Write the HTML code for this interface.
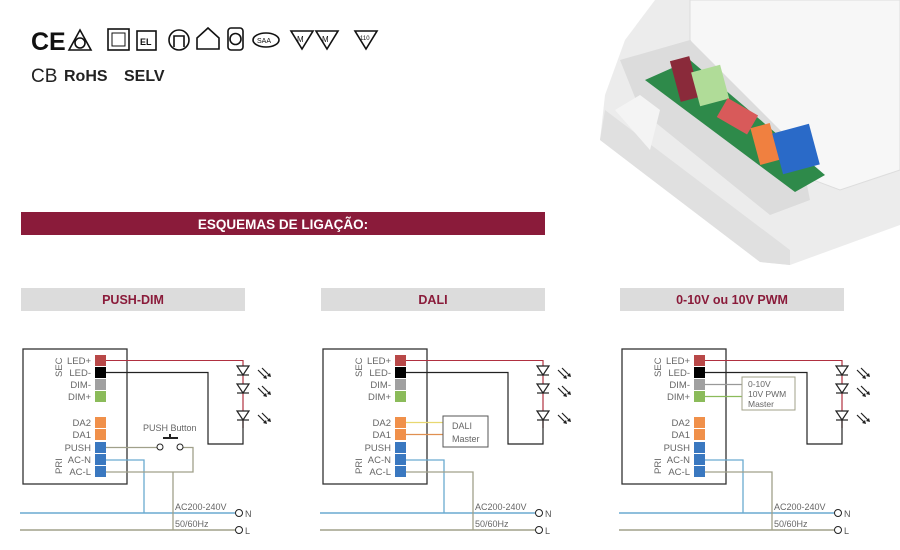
<!DOCTYPE html>
<html><head><meta charset="utf-8"><style>
html,body{margin:0;padding:0;background:#fff;width:900px;height:550px;overflow:hidden}
svg{display:block;font-family:"Liberation Sans",sans-serif}
</style></head><body>
<svg width="900" height="550" viewBox="0 0 900 550" xmlns="http://www.w3.org/2000/svg">
<defs>
<g id="leds" stroke="#222" stroke-width="1.2" fill="#fff">
  <path d="M0,0 V68" stroke="#b03040" fill="none"/>
  <path d="M-6,6 h12 l-6,9 z"/><path d="M-6,15 h12"/>
  <path d="M-6,24 h12 l-6,9 z"/><path d="M-6,33 h12"/>
  <path d="M-6,51 h12 l-6,9 z"/><path d="M-6,60 h12"/>
  <g stroke="#222" fill="none" stroke-width="1.2">
    <path d="M15,10 l8,8 M19,8 l8,8"/><path d="M15,28 l8,8 M19,26 l8,8"/><path d="M15,55 l8,8 M19,53 l8,8"/>
  </g>
  <g fill="#222" stroke="none">
    <path d="M24,19 l-4,-1 l3,-3z M28,17 l-4,-1 l3,-3z M24,37 l-4,-1 l3,-3z M28,35 l-4,-1 l3,-3z M24,64 l-4,-1 l3,-3z M28,62 l-4,-1 l3,-3z"/>
  </g>
</g>
<g id="drv">
  <rect x="23" y="349" width="104" height="135" fill="#fff" stroke="#333" stroke-width="1.3"/>
  <rect x="95" y="355" width="11" height="11" fill="#b84848"/>
  <rect x="95" y="367" width="11" height="11" fill="#000"/>
  <rect x="95" y="379" width="11" height="11" fill="#a0a0a0"/>
  <rect x="95" y="391" width="11" height="11" fill="#8bbb5a"/>
  <rect x="95" y="417" width="11" height="11" fill="#f0904a"/>
  <rect x="95" y="429" width="11" height="11" fill="#f0904a"/>
  <rect x="95" y="442" width="11" height="11" fill="#3a78c0"/>
  <rect x="95" y="454" width="11" height="11" fill="#3a78c0"/>
  <rect x="95" y="466" width="11" height="11" fill="#3a78c0"/>
  <g font-size="9.5" fill="#666" text-anchor="end">
    <text x="91" y="364">LED+</text><text x="91" y="376">LED-</text><text x="91" y="388">DIM-</text><text x="91" y="400">DIM+</text>
    <text x="91" y="426">DA2</text><text x="91" y="438">DA1</text><text x="91" y="451">PUSH</text><text x="91" y="463">AC-N</text><text x="91" y="475">AC-L</text>
  </g>
  <text transform="translate(62,377) rotate(-90)" font-size="9.5" fill="#666">SEC</text>
  <text transform="translate(62,474) rotate(-90)" font-size="9.5" fill="#666">PRI</text>
  <path d="M106,360.5 H243" stroke="#b03040" fill="none" stroke-width="1"/>
  <use href="#leds" x="243" y="360"/>
  <path d="M106,372.5 H208 V444 H243 V420" stroke="#222" fill="none" stroke-width="1.2"/>
  <path d="M20,513 H235" stroke="#6aaad0" stroke-width="1.5" fill="none"/>
  <path d="M20,530 H235" stroke="#a0a08a" stroke-width="1.5" fill="none"/>
  <circle cx="239" cy="513" r="3.5" fill="#fff" stroke="#222"/>
  <circle cx="239" cy="530" r="3.5" fill="#fff" stroke="#222"/>
  <text x="245" y="517" font-size="9" fill="#555">N</text>
  <text x="245" y="534" font-size="9" fill="#555">L</text>
  <text x="175" y="510" font-size="9" fill="#666">AC200-240V</text>
  <text x="175" y="527" font-size="9" fill="#666">50/60Hz</text>
  <path d="M106,460 H144 V513" stroke="#6aaad0" stroke-width="1.3" fill="none"/>
</g>
</defs>

<!-- certification marks -->
<g fill="none" stroke="#111" stroke-width="1.6">
  <text x="31" y="50" font-size="25" fill="#111" stroke="none" font-weight="bold">CE</text>
  <path d="M69,50 L80,30 L91,50 Z"/><circle cx="80" cy="43" r="5"/>
  <rect x="108" y="29" width="21" height="21"/><rect x="112" y="33" width="13" height="13" stroke-width="1"/>
  <rect x="137" y="31" width="19" height="19"/>
  <text x="140" y="45" font-size="9" fill="#111" stroke="none" font-weight="bold">EL</text>
  <circle cx="179" cy="40" r="10"/><path d="M174,47 V36 H184 V47"/>
  <path d="M197,49 V38 L208,28 L219,38 V49 Z"/>
  <rect x="228" y="28" width="15" height="22" rx="3"/><circle cx="235.5" cy="39" r="5.5"/>
  <ellipse cx="266" cy="40" rx="13" ry="7"/>
  <text x="257" y="43" font-size="7" fill="#111" stroke="none">SAA</text>
  <path d="M291,31 H313 L302,49 Z M316,31 H338 L327,49 Z M355,31 H377 L366,49 Z"/>
  <text x="297" y="42" font-size="8" fill="#111" stroke="none">M</text>
  <text x="322" y="42" font-size="8" fill="#111" stroke="none">M</text>
  <text x="360" y="40" font-size="6" fill="#111" stroke="none">110</text>
</g>
<text x="31" y="82" font-size="19" fill="#222">CB</text>
<text x="64" y="81" font-size="16" fill="#222" font-weight="bold">RoHS</text>
<text x="124" y="81" font-size="16" fill="#222" font-weight="bold">SELV</text>

<!-- product photo approximation -->
<g>
  <path d="M655,0 H900 V225 L790,265 L760,262 L600,140 L605,95 L625,40 Z" fill="#ececec"/>
  <path d="M690,0 H900 V170 L840,190 L760,160 L690,40 Z" fill="#f7f7f7" stroke="#ddd"/>
  <path d="M620,60 L690,40 L800,150 L810,200 L770,215 L640,110 Z" fill="#dcdcdc"/>
  <path d="M645,80 L690,60 L825,175 L795,192 Z" fill="#2e8a4a"/>
  <rect x="675" y="58" width="20" height="42" fill="#8a2a3a" transform="rotate(-15 685 79)"/>
  <rect x="695" y="68" width="30" height="35" fill="#b0dc98" transform="rotate(-15 710 85)"/>
  <rect x="720" y="105" width="35" height="22" fill="#d85a5a" transform="rotate(30 737 116)"/>
  <rect x="755" y="125" width="20" height="38" fill="#f08040" transform="rotate(-15 765 144)"/>
  <rect x="777" y="128" width="38" height="42" fill="#2a6ac8" transform="rotate(-15 796 149)"/>
  <path d="M600,140 L760,262 L790,265 L790,250 L605,110 Z" fill="#e0e0e0"/>
  <path d="M615,110 L650,150 L660,110 L640,95 Z" fill="#f4f4f4"/>
</g>

<!-- title banner -->
<rect x="21" y="212" width="524" height="23" fill="#8a1b3a"/>
<text x="283" y="229" font-size="13.5" font-weight="bold" fill="#fff" text-anchor="middle">ESQUEMAS DE LIGAÇÃO:</text>

<!-- section headers -->
<rect x="21" y="288" width="224" height="23" fill="#dcdcdc"/>
<text x="133" y="304" font-size="12.5" font-weight="bold" fill="#8a1b3a" text-anchor="middle">PUSH-DIM</text>
<rect x="321" y="288" width="224" height="23" fill="#dcdcdc"/>
<text x="433" y="304" font-size="12.5" font-weight="bold" fill="#8a1b3a" text-anchor="middle">DALI</text>
<rect x="620" y="288" width="224" height="23" fill="#dcdcdc"/>
<text x="732" y="304" font-size="12.5" font-weight="bold" fill="#8a1b3a" text-anchor="middle">0-10V ou 10V PWM</text>

<!-- PUSH-DIM -->
<use href="#drv"/>
<path d="M106,447.5 H157 M183,447.5 H193 V472 H106 M173,472 V530" stroke="#a0a08a" stroke-width="1.3" fill="none"/>
<circle cx="160" cy="447" r="3" fill="#fff" stroke="#222"/>
<circle cx="180" cy="447" r="3" fill="#fff" stroke="#222"/>
<path d="M163,438 H178 M170,438 V434" stroke="#222" stroke-width="2"/>
<text x="143" y="431" font-size="9" fill="#666">PUSH Button</text>

<!-- DALI -->
<g transform="translate(300,0)">
  <use href="#drv"/>
  <path d="M106,472 H173 V530" stroke="#a0a08a" stroke-width="1.3" fill="none"/>
  <path d="M106,422.5 H143" stroke="#e8d870" stroke-width="1.2"/>
  <path d="M106,434.5 H143" stroke="#e09050" stroke-width="1.2"/>
  <rect x="143" y="416" width="45" height="31" fill="#fff" stroke="#555"/>
  <text x="152" y="429" font-size="9" fill="#666">DALI</text>
  <text x="152" y="442" font-size="9" fill="#666">Master</text>
</g>

<!-- 0-10V -->
<g transform="translate(599,0)">
  <use href="#drv"/>
  <path d="M106,472 H173 V530" stroke="#a0a08a" stroke-width="1.3" fill="none"/>
  <path d="M106,384.5 H143" stroke="#999" stroke-width="1.2"/>
  <path d="M106,396.5 H143" stroke="#8bbb5a" stroke-width="1.2"/>
  <rect x="143" y="377" width="53" height="33" fill="#fff" stroke="#a0a08a"/>
  <text x="149" y="387" font-size="8.5" fill="#666">0-10V</text>
  <text x="149" y="397" font-size="8.5" fill="#666">10V PWM</text>
  <text x="149" y="407" font-size="8.5" fill="#666">Master</text>
</g>
</svg>
</body></html>
